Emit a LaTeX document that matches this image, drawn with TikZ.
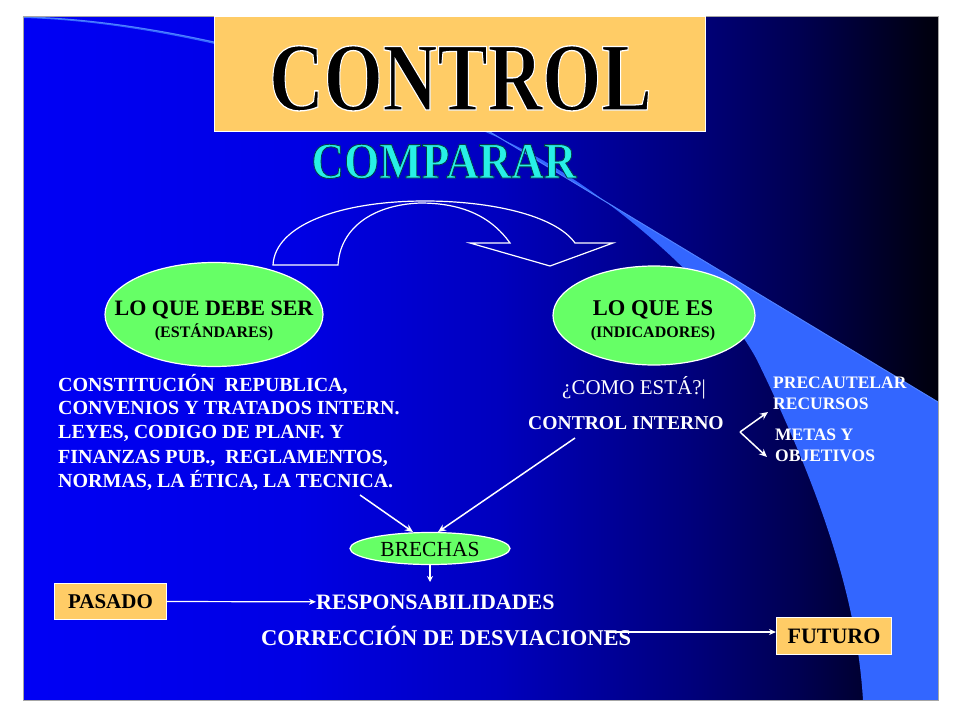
\documentclass[tikz,border=0pt]{standalone}
\usepackage{fontspec}
\setmainfont{Liberation Serif}
\usetikzlibrary{arrows.meta,shapes.geometric}
\definecolor{bgA}{RGB}{0,0,245}
\definecolor{bgB}{RGB}{0,0,228}
\definecolor{bgC}{RGB}{0,0,190}
\definecolor{bgD}{RGB}{0,0,120}
\definecolor{bgE}{RGB}{0,0,80}
\definecolor{bgF}{RGB}{0,0,12}
\definecolor{swoosh}{RGB}{51,102,255}
\definecolor{swline}{RGB}{80,130,255}
\definecolor{titlebox}{RGB}{255,204,102}
\definecolor{ellgreen}{RGB}{102,255,102}
\definecolor{cyantxt}{RGB}{40,240,230}
\pgfdeclarehorizontalshading{slidebg}{100bp}{color(0bp)=(bgA); color(25bp)=(bgA); color(40bp)=(bgB); color(51bp)=(bgC); color(62bp)=(bgD); color(67.5bp)=(bgE); color(75bp)=(bgF); color(100bp)=(bgF)}
\newcommand{\outlinetext}[3]{\special{pdf:literal direct #1 RG #2 w 2 Tr}#3\special{pdf:literal direct 0 Tr 0.4 w}}
\tikzset{
  wt/.style={text=white, inner sep=0pt, font=\bfseries\fontsize{20}{24}\selectfont},
  wtsmall/.style={text=white, inner sep=0pt, align=left, font=\bfseries\fontsize{17.5}{21}\selectfont},
  greenell/.style={ellipse, fill=ellgreen, draw=white, line width=1.2pt, inner sep=0pt},
  orangebox/.style={fill=titlebox, draw=white, line width=1pt, inner sep=0pt},
  bktxt/.style={text=black, inner sep=0pt},
  conn/.style={draw=white, line width=1.5pt, -{Stealth[length=8pt,width=7pt]}},
}
\begin{document}
\begin{tikzpicture}[x=1pt,y=-1pt]
\useasboundingbox (0,0) rectangle (960,720);
\fill[white] (0,0) rectangle (960,720);
% slide background
\fill[shading=slidebg] (23,16) rectangle (938,700);
% swoosh
\fill[swoosh] (23,17) .. controls (150,19) and (330,62) .. (490,132) -- (938,402) -- (938,700) -- (863,700)
  .. controls (858,620) and (835,520) .. (757,360)
  .. controls (720,290) and (600,180) .. (490,134)
  .. controls (330,64) and (150,21) .. (23,18) -- cycle;
\draw[swline, line width=1pt] (23,17) .. controls (150,19) and (330,62) .. (490,132) -- (938,402);
\draw[gray!70, line width=0.8pt] (23,16) rectangle (938,700);
% title
\node[orangebox, minimum width=491, minimum height=115, anchor=north west] (titlebg) at (214,16) {};
\node[bktxt, anchor=base, xscale=0.78, font=\bfseries\fontsize{97}{97}\selectfont] (title) at (460.5,110) {\outlinetext{1 1 1}{1.3}{CONTROL}};
\node[anchor=base, inner sep=0pt, xscale=0.885, text=cyantxt, font=\bfseries\fontsize{51}{51}\selectfont] (comparar) at (444,178) {\outlinetext{0 0.25 0.3}{0.9}{COMPARAR}};
% curved block arrow
\draw[white, line width=1.2pt, line join=miter] (273,265) .. controls (275,225) and (340,201) .. (425,201)
  .. controls (490,201) and (555,215) .. (575,243) -- (613,243) -- (550,266) -- (470,243) -- (510,243)
  .. controls (490,215) and (460,203) .. (420,203)
  .. controls (370,205) and (340,230) .. (338,265) -- cycle;
% ellipses
\node[greenell, minimum width=218, minimum height=104] (debe) at (214,314.5) {};
\node[bktxt, anchor=base, font=\bfseries\fontsize{22}{22}\selectfont] (debe1) at (214,315.5) {LO QUE DEBE SER};
\node[bktxt, anchor=base, font=\bfseries\fontsize{16}{16}\selectfont] (debe2) at (214,337) {(ESTÁNDARES)};
\node[greenell, minimum width=202, minimum height=99] (es) at (654,315.5) {};
\node[bktxt, anchor=base, font=\bfseries\fontsize{22.5}{22.5}\selectfont] (es1) at (653,315.5) {LO QUE ES};
\node[bktxt, anchor=base, font=\bfseries\fontsize{16}{16}\selectfont] (es2) at (653,337) {(INDICADORES)};
% left text block
\node[wt, anchor=base west] (l1) at (58,391.5) {CONSTITUCIÓN\ \ REPUBLICA,};
\node[wt, anchor=base west] (l2) at (58,414.5) {CONVENIOS Y TRATADOS INTERN.};
\node[wt, anchor=base west] (l3) at (58,438.5) {LEYES, CODIGO DE PLANF. Y};
\node[wt, anchor=base west] (l4) at (58,463) {FINANZAS PUB.,\ \ REGLAMENTOS,};
\node[wt, anchor=base west] (l5) at (58,487.5) {NORMAS, LA ÉTICA, LA TECNICA.};
% right texts
\node[anchor=base west, inner sep=0pt, text=white, font=\fontsize{21}{21}\selectfont] (como) at (562,394) {¿COMO ESTÁ?|};
\node[wt, anchor=base west, font=\bfseries\fontsize{19.6}{19.6}\selectfont] (ci) at (528,429.5) {CONTROL INTERNO};
\node[wtsmall, anchor=base west] (prec) at (773,409) {PRECAUTELAR\\RECURSOS};
\node[wtsmall, anchor=base west] (metas) at (775,461) {METAS Y\\OBJETIVOS};
\coordinate (fork) at (740,432);
\draw[conn] (fork) -- (768,412);
\draw[conn] (fork) -- (767,457);
% brechas
\node[greenell, minimum width=160, minimum height=32] (brechas) at (430,548.5) {};
\node[bktxt, font=\fontsize{21.5}{21.5}\selectfont] (brtxt) at (430,549) {BRECHAS};
\coordinate (lstart) at (360,495);
\coordinate (rstart) at (575,438);
\draw[conn] (lstart) -- (413,532);
\draw[conn] (rstart) -- (438,532);
% bottom
\node[wt, anchor=base west, font=\bfseries\fontsize{22}{22}\selectfont] (resp) at (316,609) {RESPONSABILIDADES};
\node[wt, anchor=base west, font=\bfseries\fontsize{22.5}{22.5}\selectfont] (corr) at (261,645) {CORRECCIÓN DE DESVIACIONES};
\draw[conn, -{Stealth[length=6pt,width=6pt]}] (brechas.south) -- (430,582);
\node[orangebox, minimum width=112, minimum height=36, anchor=north west, text=black, font=\bfseries\fontsize{21}{21}\selectfont] (pasado) at (54,583) {PASADO};
\node[orangebox, minimum width=115, minimum height=37, anchor=north west, text=black, font=\bfseries\fontsize{22}{22}\selectfont] (futuro) at (776,617) {FUTURO};
\draw[conn, line width=1.2pt, -{Stealth[length=7pt,width=6pt]}] (pasado.east) -- (resp.west);
\coordinate (cstart) at (607,632);
\draw[conn, line width=1.2pt, -{Stealth[length=7pt,width=6pt]}] (cstart) -- (futuro.west |- cstart);
\end{tikzpicture}
\end{document}
